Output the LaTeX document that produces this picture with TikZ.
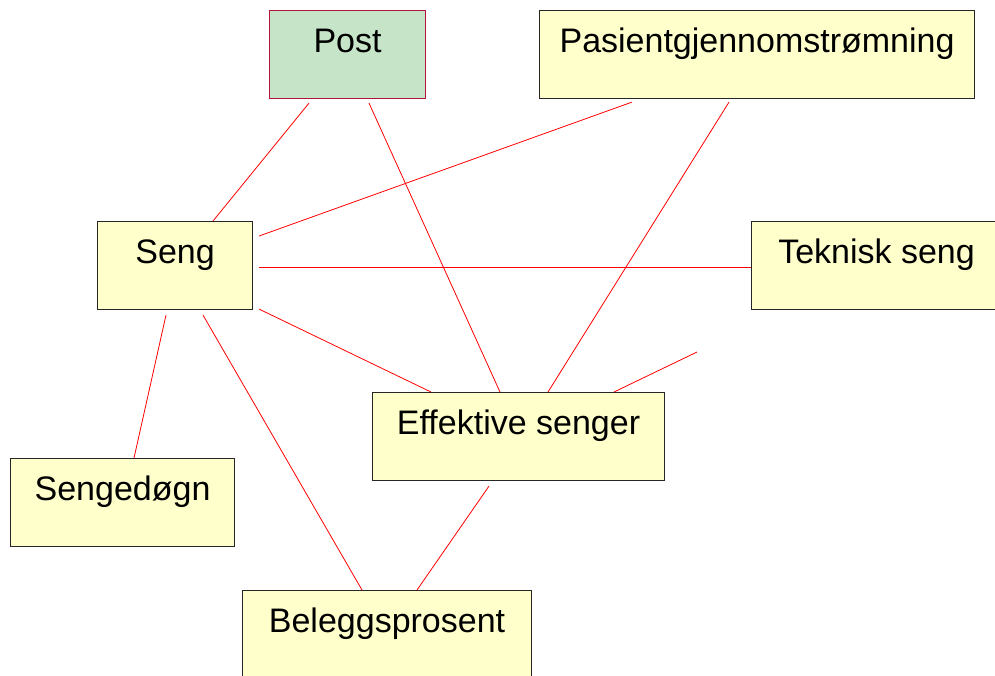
\documentclass[tikz,border=0pt]{standalone}
\usepackage{fontspec}
\setmainfont{Liberation Sans}
\usetikzlibrary{calc}
\definecolor{boxyellow}{RGB}{255,255,204}
\definecolor{boxgreen}{RGB}{198,228,200}
\definecolor{postframe}{RGB}{180,20,60}
\definecolor{linkred}{RGB}{255,0,0}
\tikzset{
  concept/.style={draw=black!85, line width=1.1pt, fill=boxyellow, anchor=north west,
    inner xsep=0pt, inner ysep=0pt, text height=42pt, text depth=46pt,
    font=\fontsize{34}{40}\selectfont},
  root/.style={concept, fill=boxgreen, draw=postframe},
  link/.style={draw=linkred, line width=0.8pt}
}
\begin{document}
\begin{tikzpicture}[x=1pt, y=-1pt]
  \useasboundingbox (0,0) rectangle (995,675);
  \clip (0,0) rectangle (995,675);

  % concept boxes
  \node[root, minimum width=156pt] (post) at (269,10) {Post};
  \node[concept, minimum width=435pt] (flow) at (539,10) {Pasientgjennomstrømning};
  \node[concept, minimum width=155pt] (seng) at (97,221) {Seng};
  \node[concept, minimum width=250pt] (tech) at (751,221) {Teknisk seng};
  \node[concept, minimum width=224pt] (days) at (10,458) {Sengedøgn};
  \node[concept, minimum width=292pt] (eff) at (372,392) {Effektive senger};
  \node[concept, minimum width=289pt] (occ) at (242,590) {Beleggsprosent};

  \coordinate (loose) at (697,352);

  % relations
  \draw[link] ($(post.south west)+(40,4)$) -- ($(seng.north west)+(116,0)$);
  \draw[link] ($(post.south west)+(100,4)$) -- ($(eff.north west)+(128,0)$);
  \draw[link] ($(flow.south west)+(93,3)$) -- ($(seng.north east)+(6,15)$);
  \draw[link] ($(flow.south west)+(190,3)$) -- ($(eff.north west)+(176,0)$);
  \draw[link] ($(seng.north east)+(6,46)$) -- ($(tech.north west)+(0,46)$);
  \draw[link] ($(seng.south east)+(6,-1)$) -- ($(eff.north west)+(59,0)$);
  \draw[link] ($(seng.south west)+(69,5)$) -- ($(days.north west)+(124,0)$);
  \draw[link] ($(seng.south west)+(106,5)$) -- ($(occ.north west)+(120,0)$);
  \draw[link] ($(eff.south west)+(117,5)$) -- ($(occ.north west)+(175,0)$);
  \draw[link] ($(eff.north west)+(242,0)$) -- (loose);
\end{tikzpicture}
\end{document}
